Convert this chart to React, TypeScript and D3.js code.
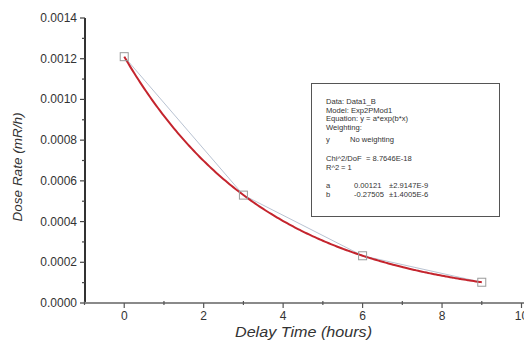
import React from "react";
import * as d3 from "d3";

const W = 524;
const H = 340;

// Measured decay points
const delayHours = [0, 3, 6, 9];
const doseRate = [0.00121, 0.00053, 0.000232, 0.000102];

// Exponential fit parameters (y = a*exp(b*x))
const fitA = 0.00121;
const fitB = -0.27505;

const yTicks = [0, 0.0002, 0.0004, 0.0006, 0.0008, 0.001, 0.0012, 0.0014];
const xTicks = [0, 2, 4, 6, 8, 10];

const statsLines = [
  "Data: Data1_B",
  "Model: Exp2PMod1",
  "Equation: y = a*exp(b*x)",
  "Weighting:",
];

export default function App() {
  const x = d3.scaleLinear().domain([-1, 10]).range([84.5, 521.5]);
  const y = d3.scaleLinear().domain([0, 0.0014]).range([303, 18]);

  const pts = delayHours.map((h, i) => [h, doseRate[i]] as [number, number]);
  const dataLine = d3
    .line<[number, number]>()
    .x((d) => x(d[0]))
    .y((d) => y(d[1]));

  const fitPts: [number, number][] = d3
    .range(0, 9.0001, 0.05)
    .map((t) => [t, fitA * Math.exp(fitB * t)]);
  const fitLine = d3
    .line<[number, number]>()
    .x((d) => x(d[0]))
    .y((d) => y(d[1]))
    .curve(d3.curveMonotoneX);

  const yMinor = d3.range(0.0001, 0.0014, 0.0002);
  const xMinor = [-1, 1, 3, 5, 7, 9];

  const font = "Arial, 'Liberation Sans', sans-serif";
  const tc = "#333";

  return (
    <div style={{ position: "absolute", left: 0, top: 0 }}>
      <svg width={W} height={H} style={{ display: "block", background: "#fff" }} fontFamily={font}>
        {/* data polyline */}
        <path d={dataLine(pts) || ""} fill="none" stroke="#b9c3d2" strokeWidth={1} />
        {/* fit curve */}
        <path d={fitLine(fitPts) || ""} fill="none" stroke="#c4242d" strokeWidth={2} />
        {/* markers */}
        {pts.map((p, i) => (
          <rect
            key={i}
            x={x(p[0]) - 4}
            y={y(p[1]) - 4}
            width={8}
            height={8}
            fill="none"
            stroke="#9a9a9a"
            strokeWidth={1}
          />
        ))}

        {/* y axis */}
        <line x1={85} x2={85} y1={18} y2={304} stroke="#333" strokeWidth={2} />
        {yTicks.map((t) => (
          <g key={t}>
            <line x1={80} x2={85} y1={y(t)} y2={y(t)} stroke="#444" strokeWidth={1.2} />
            <text x={77} y={y(t) + 4} textAnchor="end" fontSize={12} fill={tc}>
              {t.toFixed(4)}
            </text>
          </g>
        ))}
        {yMinor.map((t) => (
          <line key={t} x1={82} x2={85} y1={y(t)} y2={y(t)} stroke="#444" strokeWidth={1.2} />
        ))}

        {/* x axis */}
        <line x1={84} x2={524} y1={303} y2={303} stroke="#8a8a8a" strokeWidth={2} />
        {xTicks.map((t) => (
          <g key={t}>
            <line x1={x(t)} x2={x(t)} y1={303} y2={308} stroke="#555" strokeWidth={1.2} />
            <text x={x(t)} y={320} textAnchor="middle" fontSize={12} fill={tc}>
              {t}
            </text>
          </g>
        ))}
        {xMinor.map((t) => (
          <line key={t} x1={x(t)} x2={x(t)} y1={301} y2={305} stroke="#555" strokeWidth={1.2} />
        ))}

        {/* axis titles */}
        <text
          transform={`translate(22,167) rotate(-90)`}
          textAnchor="middle"
          fontSize={13.5}
          fontStyle="italic"
          fill={tc}
        >
          Dose Rate (mR/h)
        </text>
        <text
          x={235}
          y={337}
          fontSize={14}
          fontStyle="italic"
          fill={tc}
          textLength={137}
          lengthAdjust="spacingAndGlyphs"
        >
          Delay Time (hours)
        </text>

        {/* fit statistics box */}
        <rect x={311.5} y={83.5} width={188} height={133} fill="#fff" stroke="#555" strokeWidth={1} />
        <g fontSize={7.6} fill={tc}>
          {statsLines.map((s, i) => (
            <text key={s} x={326} y={104 + i * 8.7}>
              {s}
            </text>
          ))}
          <text x={326} y={142}>y</text>
          <text x={350} y={142}>No weighting</text>
          <text x={326} y={161}>Chi^2/DoF</text>
          <text x={366} y={161}>= 8.7646E-18</text>
          <text x={326} y={169.5}>R^2</text>
          <text x={341} y={169.5}>= 1</text>
          <text x={326} y={188}>a</text>
          <text x={354} y={188}>{fitA}</text>
          <text x={389} y={188}>±2.9147E-9</text>
          <text x={326} y={197}>b</text>
          <text x={354} y={197}>{fitB}</text>
          <text x={389} y={197}>±1.4005E-6</text>
        </g>
      </svg>
    </div>
  );
}
